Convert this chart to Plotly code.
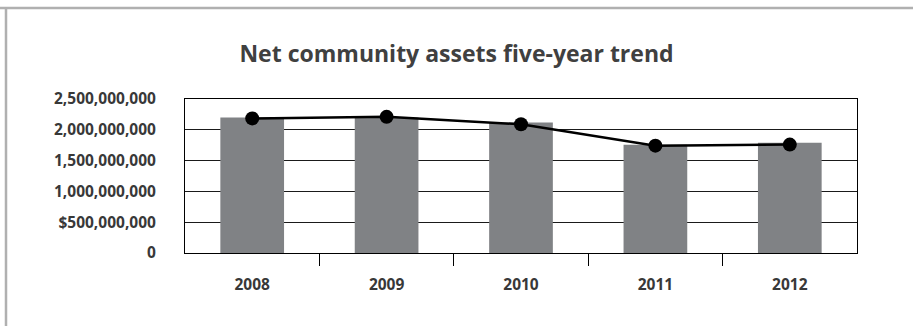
import plotly.graph_objects as go

years = ["2008", "2009", "2010", "2011", "2012"]
bar_values = [2200000000, 2200000000, 2117000000, 1759000000, 1790000000]
line_values = [2185000000, 2210000000, 2090000000, 1743000000, 1760000000]
y_tickvals = [0, 500000000, 1000000000, 1500000000, 2000000000, 2500000000]
y_ticktext = ["0", "$500,000,000", "1,000,000,000", "1,500,000,000", "2,000,000,000", "2,500,000,000"]
boundary_ticks = [0.5, 1.5, 2.5, 3.5]

label_font = dict(family="Open Sans", size=15.5, color="#383838", weight="bold")

fig = go.Figure()
fig.add_trace(go.Bar(x=years, y=bar_values, marker=dict(color="#808285", line=dict(width=0)),
                     width=0.474, showlegend=False, hoverinfo="skip"))
fig.add_trace(go.Scatter(x=years, y=line_values, mode="lines+markers",
                         line=dict(color="black", width=2.5),
                         marker=dict(color="black", size=14), showlegend=False))
# invisible trace to activate boundary tick axis
fig.add_trace(go.Scatter(x=boundary_ticks, y=[None]*4, xaxis="x2", showlegend=False, hoverinfo="skip"))

fig.update_layout(
    width=913, height=326,
    margin=dict(l=185, r=56, t=99, b=73),
    paper_bgcolor="white", plot_bgcolor="white",
    title=dict(text="<b>Net community assets five-year trend</b>", x=0.5, xanchor="center",
               y=1 - 54/326, yanchor="middle", yref="container",
               font=dict(family="Open Sans", size=23, color="#404040")),
    xaxis=dict(type="category", showgrid=False, ticks="", tickfont=label_font,
               showline=True, linecolor="black", linewidth=1, mirror=True,
               ticklabelstandoff=17, range=[-0.5, 4.5]),
    xaxis2=dict(overlaying="x", range=[-0.5, 4.5], tickvals=boundary_ticks, showticklabels=False,
                ticks="outside", ticklen=12, tickcolor="black", tickwidth=1,
                showgrid=False, showline=False, zeroline=False, anchor="y", side="bottom"),
    yaxis=dict(range=[0, 2500000000], tickvals=y_tickvals, ticktext=y_ticktext,
               tickfont=label_font, showgrid=True, gridcolor="#1a1a1a", gridwidth=1,
               showline=True, linecolor="black", linewidth=1, mirror=True,
               zeroline=False, ticks="", ticklabelstandoff=25),
    shapes=[
        dict(type="line", xref="paper", yref="paper", x0=-185/672, x1=(913-185)/672,
             y0=(326-73-8)/154, y1=(326-73-8)/154, line=dict(color="#b0b0b0", width=2.5)),
        dict(type="line", xref="paper", yref="paper", x0=-179/672, x1=-179/672,
             y0=(326-73-8)/154, y1=-73/154, line=dict(color="#b0b0b0", width=2.5)),
    ],
)

fig.write_html("out.html")
